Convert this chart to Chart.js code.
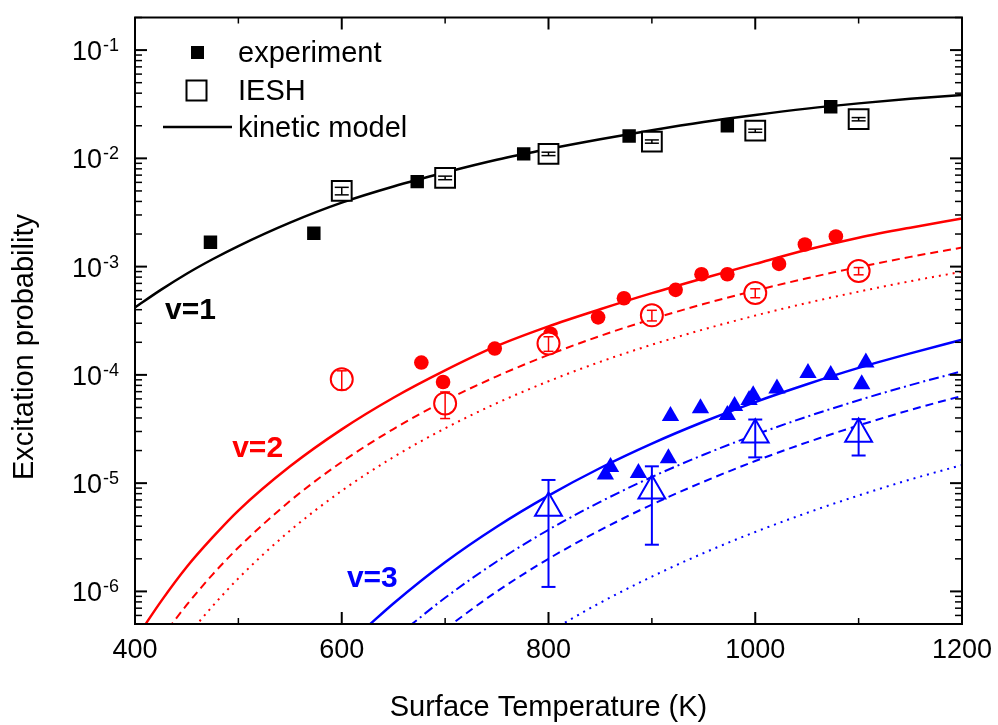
<!DOCTYPE html>
<html>
<head>
<meta charset="utf-8">
<script src="https://cdn.jsdelivr.net/npm/chart.js@4.4.1/dist/chart.umd.min.js"></script>
<style>
  html, body { margin: 0; padding: 0; background: #fff; }
  canvas { display: block; }
</style>
</head>
<body>
<canvas id="chart" width="998" height="725"></canvas>
<script>
"use strict";

// ---- v=1 ----
var v1ExpT   = [473, 573, 673, 776, 878, 973, 1073];
var v1ExpP   = [1.68e-3, 2.03e-3, 6.1e-3, 1.1e-2, 1.61e-2, 2.0e-2, 3.0e-2];
var v1IeshT  = [600, 700, 800, 900, 1000, 1100];
var v1IeshP  = [5.0e-3, 6.6e-3, 1.1e-2, 1.43e-2, 1.8e-2, 2.3e-2];
var v1IeshE  = [4e-4, 2.5e-4, 4e-4, 5e-4, 6e-4, 8e-4];
var v1ModelT = [400, 425, 450, 475, 500, 550, 600, 650, 700, 750, 800, 850, 900, 950, 1000, 1050, 1100, 1150, 1200];
var v1ModelP = [4.2e-4, 6.1e-4, 8.6e-4, 1.17e-3, 1.55e-3, 2.55e-3, 3.9e-3, 5.5e-3, 7.4e-3, 9.7e-3,
                1.22e-2, 1.5e-2, 1.82e-2, 2.17e-2, 2.52e-2, 2.88e-2, 3.22e-2, 3.55e-2, 3.85e-2];

// ---- v=2 ----
var v2ExpT   = [677, 698, 748, 802, 848, 873, 923, 948, 973, 1023, 1048, 1078];
var v2ExpP   = [1.3e-4, 8.6e-5, 1.75e-4, 2.4e-4, 3.4e-4, 5.1e-4, 6.1e-4, 8.5e-4, 8.5e-4, 1.06e-3, 1.6e-3, 1.9e-3];
var v2IeshT  = [600, 700, 800, 900, 1000, 1100];
var v2IeshP  = [9.1e-5, 5.45e-5, 1.95e-4, 3.55e-4, 5.7e-4, 9.1e-4];
var v2IeshE  = [1.8e-5, 1.5e-5, 3e-5, 4e-5, 5.4e-5, 7e-5];
var v2SolidT = [405, 425, 450, 475, 500, 550, 600, 650, 700, 750, 800, 850, 900, 950, 1000, 1050, 1100, 1150, 1200];
var v2SolidP = [4.2e-7, 8.05e-7, 1.68e-6, 3.15e-6, 5.58e-6, 1.43e-5, 3.14e-5, 6.15e-5, 1.1e-4, 1.85e-4,
                2.81e-4, 4.04e-4, 5.69e-4, 7.82e-4, 1.06e-3, 1.43e-3, 1.85e-3, 2.29e-3, 2.78e-3];
var v2DashT  = [432, 450, 475, 500, 550, 600, 650, 700, 750, 800, 850, 900, 950, 1000, 1050, 1100, 1150, 1200];
var v2DashP  = [4.5e-7, 7.5e-7, 1.43e-6, 2.54e-6, 6.85e-6, 1.57e-5, 3.16e-5, 5.77e-5, 9.7e-5, 1.53e-4,
                2.29e-4, 3.27e-4, 4.51e-4, 6.01e-4, 7.8e-4, 9.9e-4, 1.23e-3, 1.5e-3];
var v2DotT   = [458, 475, 500, 550, 600, 650, 700, 750, 800, 850, 900, 950, 1000, 1050, 1100, 1150, 1200];
var v2DotP   = [4.73e-7, 7.3e-7, 1.32e-6, 3.64e-6, 8.5e-6, 1.74e-5, 3.21e-5, 5.48e-5, 8.73e-5,
                1.32e-4, 1.9e-4, 2.63e-4, 3.53e-4, 4.61e-4, 5.87e-4, 7.33e-4, 8.97e-4];

// ---- v=3 ----
var v3ExpT   = [855, 860, 887, 916, 918, 947, 973, 980, 994, 998, 1021, 1051, 1073, 1107, 1103];
var v3ExpP   = [1.2e-5, 1.41e-5, 1.24e-5, 1.7e-5, 4.18e-5, 4.91e-5, 4.26e-5, 5.16e-5, 5.86e-5, 6.5e-5,
                7.5e-5, 1.04e-4, 9.95e-5, 1.3e-4, 8.2e-5];
var v3IeshT  = [800, 900, 1000, 1100];
var v3IeshP  = [5.9e-6, 8.5e-6, 2.8e-5, 2.85e-5];
var v3IeshE  = [4.8e-6, 5.8e-6, 1.07e-5, 1.05e-5];
var v3SolidT = [625, 650, 700, 750, 800, 850, 900, 950, 1000, 1050, 1100, 1150, 1200];
var v3SolidP = [4.75e-7, 7.74e-7, 1.86e-6, 3.96e-6, 7.67e-6, 1.38e-5, 2.32e-5, 3.69e-5, 5.61e-5, 8.19e-5, 1.16e-4, 1.58e-4, 2.11e-4];
var v3DashDotT = [665, 700, 750, 800, 850, 900, 950, 1000, 1050, 1100, 1150, 1200];
var v3DashDotP = [4.75e-7, 8.73e-7, 1.89e-6, 3.71e-6, 6.71e-6, 1.14e-5, 1.83e-5, 2.8e-5, 4.11e-5, 5.83e-5, 8.04e-5, 1.08e-4];
var v3DashT  = [700, 750, 800, 850, 900, 950, 1000, 1050, 1100, 1150, 1200];
var v3DashP  = [4.5e-7, 9.98e-7, 2.0e-6, 3.68e-6, 6.34e-6, 1.03e-5, 1.6e-5, 2.38e-5, 3.41e-5, 4.74e-5, 6.4e-5];
var v3DotT   = [810, 850, 900, 950, 1000, 1050, 1100, 1150, 1200];
var v3DotP   = [4.79e-7, 7.85e-7, 1.37e-6, 2.26e-6, 3.54e-6, 5.31e-6, 7.69e-6, 1.08e-5, 1.47e-5];

// curve labels (anchored in data coordinates)
var curveLabels = ['v=1', 'v=2', 'v=3'];
var curveLabelT = [429, 494, 605];
var curveLabelP = [3.31e-4, 1.76e-5, 1.11e-6];
var curveLabelColor = ['#000000', '#ff0000', '#0000ff'];

var legendLabels = ['experiment', 'IESH', 'kinetic model'];
var yDecades = [-6, -5, -4, -3, -2, -1];

var RED = '#ff0000', BLUE = '#0000ff', BLACK = '#000000';
var FONT = "'Liberation Sans', Arial, sans-serif";

function pts(xs, ys) {
  return xs.map(function (x, i) { return { x: x, y: ys[i] }; });
}

function curve(xs, ys, color, dash, width) {
  return {
    data: pts(xs, ys), showLine: true, pointRadius: 0, borderColor: color,
    borderWidth: width || 2, borderDash: dash || [], cubicInterpolationMode: 'monotone', order: 3
  };
}

function markers(xs, ys, style, radius, color, open, errs) {
  return {
    data: pts(xs, ys), showLine: false, pointStyle: style, pointRadius: radius,
    backgroundColor: open ? '#ffffff' : color, borderColor: color,
    borderWidth: open ? 2 : 0, errors: errs || null, order: open ? 1 : 2
  };
}

var datasets = [
  curve(v1ModelT, v1ModelP, BLACK, [], 2.5),
  curve(v2SolidT, v2SolidP, RED, [], 2.5),
  curve(v2DashT, v2DashP, RED, [8, 5], 2),
  curve(v2DotT, v2DotP, RED, [2, 5], 2),
  curve(v3SolidT, v3SolidP, BLUE, [], 2.5),
  curve(v3DashDotT, v3DashDotP, BLUE, [10, 4, 2, 4], 2),
  curve(v3DashT, v3DashP, BLUE, [8, 5], 2),
  curve(v3DotT, v3DotP, BLUE, [2, 5], 2),
  markers(v1ExpT, v1ExpP, 'rect', 9.5, BLACK, false),
  markers(v2ExpT, v2ExpP, 'circle', 7.3, RED, false),
  markers(v3ExpT, v3ExpP, 'triangle', 10, BLUE, false),
  markers(v1IeshT, v1IeshP, 'rect', 14, BLACK, true, v1IeshE),
  markers(v2IeshT, v2IeshP, 'circle', 11, RED, true, v2IeshE),
  markers(v3IeshT, v3IeshP, 'triangle', 15.5, BLUE, true, v3IeshE)
];

function line(ctx, x1, y1, x2, y2) {
  ctx.beginPath(); ctx.moveTo(x1, y1); ctx.lineTo(x2, y2); ctx.stroke();
}

// error bars on the IESH points
var errorBars = {
  id: 'errorBars',
  afterDatasetsDraw: function (chart) {
    var ctx = chart.ctx, y = chart.scales.y, x = chart.scales.x;
    chart.data.datasets.forEach(function (ds) {
      if (!ds.errors) return;
      var cap = ds.pointStyle === 'circle' ? 5 : 7;
      ctx.save();
      ctx.strokeStyle = ds.borderColor;
      ctx.lineWidth = ds.pointStyle === 'triangle' ? 2 : 1.5;
      ds.data.forEach(function (p, i) {
        var px = x.getPixelForValue(p.x);
        var top = y.getPixelForValue(p.y + ds.errors[i]);
        var bot = y.getPixelForValue(p.y - ds.errors[i]);
        line(ctx, px, top, px, bot);
        line(ctx, px - cap, top, px + cap, top);
        line(ctx, px - cap, bot, px + cap, bot);
      });
      ctx.restore();
    });
  }
};

// frame, inward ticks, y tick labels with exponents, y title, legend, curve labels
var decorations = {
  id: 'decorations',
  afterDraw: function (chart) {
    var ctx = chart.ctx, a = chart.chartArea, xs = chart.scales.x, ys = chart.scales.y;
    ctx.save();
    ctx.strokeStyle = BLACK;

    // x ticks (bottom and top)
    for (var t = 400; t <= 1200; t += 100) {
      var px = xs.getPixelForValue(t);
      var major = t % 200 === 0;
      ctx.lineWidth = major ? 2 : 1.5;
      var len = major ? 12 : 6;
      line(ctx, px, a.bottom, px, a.bottom - len);
      line(ctx, px, a.top, px, a.top + len);
    }
    // y ticks (left and right)
    for (var n = -7; n <= -1; n++) {
      for (var k = 1; k < 10; k++) {
        var v = k * Math.pow(10, n);
        if (v < ys.min * 0.999 || v > ys.max * 1.001) continue;
        var py = ys.getPixelForValue(v);
        ctx.lineWidth = k === 1 ? 2 : 1.5;
        var l = k === 1 ? 12 : 7;
        line(ctx, a.left, py, a.left + l, py);
        line(ctx, a.right, py, a.right - l, py);
      }
    }
    ctx.lineWidth = 2;
    ctx.strokeRect(a.left, a.top, a.right - a.left, a.bottom - a.top);

    // y tick labels 10^n
    ctx.fillStyle = BLACK;
    ctx.textBaseline = 'alphabetic';
    yDecades.forEach(function (d) {
      var py = ys.getPixelForValue(Math.pow(10, d));
      ctx.font = '27px ' + FONT;
      ctx.textAlign = 'right';
      ctx.fillText('10', 102, py + 10);
      ctx.font = '18px ' + FONT;
      ctx.textAlign = 'left';
      ctx.fillText(String(d), 103, py + 1);
    });

    // y axis title
    ctx.save();
    ctx.translate(23, 347);
    ctx.rotate(-Math.PI / 2);
    ctx.font = '29px ' + FONT;
    ctx.textAlign = 'center';
    ctx.textBaseline = 'alphabetic';
    ctx.fillText('Excitation probability', 0, 10);
    ctx.restore();

    // legend
    ctx.fillStyle = BLACK;
    ctx.fillRect(191, 46, 13, 13);
    ctx.fillStyle = '#ffffff';
    ctx.lineWidth = 2;
    ctx.fillRect(186.5, 80.5, 20, 20);
    ctx.strokeRect(186.5, 80.5, 20, 20);
    ctx.lineWidth = 2.5;
    line(ctx, 163, 127, 232, 127);
    ctx.fillStyle = BLACK;
    ctx.font = '29px ' + FONT;
    ctx.textAlign = 'left';
    var baselines = [62, 100, 137];
    legendLabels.forEach(function (s, i) { ctx.fillText(s, 238, baselines[i]); });

    // curve labels
    ctx.font = 'bold 30px ' + FONT;
    curveLabels.forEach(function (s, i) {
      ctx.fillStyle = curveLabelColor[i];
      ctx.fillText(s, xs.getPixelForValue(curveLabelT[i]), ys.getPixelForValue(curveLabelP[i]));
    });
    ctx.restore();
  }
};

Chart.defaults.font.family = FONT;
Chart.defaults.color = BLACK;

new Chart(document.getElementById('chart'), {
  type: 'scatter',
  data: { datasets: datasets },
  options: {
    responsive: false,
    animation: false,
    layout: { padding: { top: 16, right: 36, left: 0, bottom: 0 } },
    plugins: { legend: { display: false }, tooltip: { enabled: false } },
    scales: {
      x: {
        type: 'linear', min: 400, max: 1200, bounds: 'data',
        grid: { display: false, drawTicks: false },
        border: { display: false },
        ticks: { stepSize: 200, maxRotation: 0, padding: 10, color: BLACK, font: { size: 27 },
                 callback: function (v) { return String(v); } },
        title: { display: true, text: 'Surface Temperature (K)', color: BLACK,
                 font: { size: 29 }, padding: { top: 0, bottom: 0 } },
        afterFit: function (s) { s.height = 101; s.paddingLeft = 0; s.paddingRight = 0; }
      },
      y: {
        type: 'logarithmic', min: 5e-7, max: 0.2, bounds: 'data',
        grid: { display: false, drawTicks: false },
        border: { display: false },
        ticks: { display: false },
        afterFit: function (s) { s.width = 135; s.paddingTop = 0; s.paddingBottom = 0; }
      }
    }
  },
  plugins: [errorBars, decorations]
});
</script>
</body>
</html>
